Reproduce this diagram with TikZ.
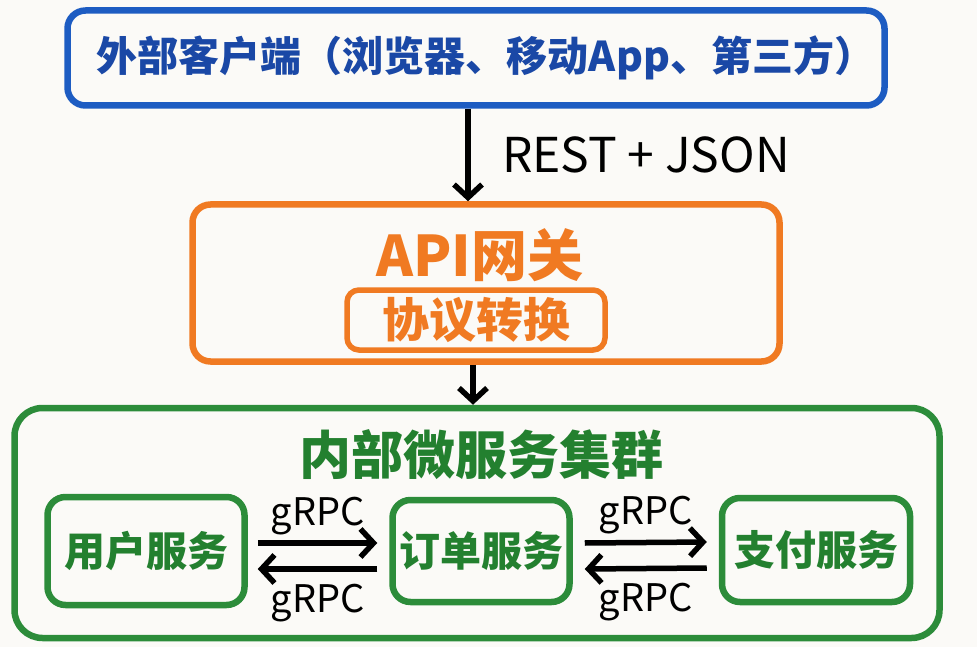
\documentclass[tikz,border=0pt]{standalone}
\usepackage{fontspec}
\setmainfont{Noto Sans CJK SC}
\usetikzlibrary{arrows.meta}
\definecolor{clientblue}{HTML}{1D5CC2}
\definecolor{clienttext}{HTML}{1A48A6}
\definecolor{gworange}{HTML}{F07A22}
\definecolor{svcgreen}{HTML}{2C8C3A}
\definecolor{svctext}{HTML}{23802F}
\definecolor{paper}{HTML}{FBFAF7}
\begin{document}
\begin{tikzpicture}[x=1pt,y=-1pt,
    box/.style={draw, line width=6.5pt, rounded corners=18pt, inner sep=0pt},
    flow/.style={line width=5.5pt, -{Straight Barb[length=13pt,width=28pt]}},
    big/.style={font=\fontsize{41pt}{46pt}\selectfont\bfseries},
    small/.style={font=\fontsize{38pt}{44pt}\selectfont}]
  \fill[paper] (0,0) rectangle (977,647);
  \useasboundingbox (0,0) rectangle (977,647);
  % boxes
  \node[box, draw=clientblue, text=clienttext, font=\fontsize{41pt}{48pt}\selectfont\bfseries,
    minimum width=817pt, minimum height=95pt] (client) at (476,58) {\kern20pt外部客户端（浏览器、移动App、第三方）};
  \node[box, draw=gworange, minimum width=587pt, minimum height=157pt] (gateway) at (486,283) {};
  \node[text=gworange, font=\fontsize{56pt}{62pt}\selectfont\bfseries] (gwtitle) at (480,255) {API网关};
  \node[box, draw=gworange, text=gworange, font=\fontsize{47pt}{52pt}\selectfont\bfseries,
    rounded corners=12pt, line width=5.5pt, minimum width=258pt, minimum height=60pt] (convert) at (476,320) {协议转换};
  \node[box, draw=svcgreen, rounded corners=28pt, minimum width=925pt, minimum height=230pt]
    (cluster) at (477,523) {};
  \node[text=svctext, font=\fontsize{52pt}{58pt}\selectfont\bfseries] (clustertitle) at (481,455) {内部微服务集群};
  \node[box, draw=svcgreen, text=svctext, big, minimum width=197pt, minimum height=108pt]
    (users) at (146,551) {用户服务};
  \node[box, draw=svcgreen, text=svctext, big, minimum width=177pt, minimum height=102pt]
    (orders) at (481,551) {订单服务};
  \node[box, draw=svcgreen, text=svctext, big, minimum width=188pt, minimum height=104pt]
    (payment) at (816,550) {支付服务};
  % connectors
  \draw[flow] ([xshift=-8pt]client.south) -- node[right=28pt, font=\fontsize{48pt}{54pt}\selectfont] (restlabel) {REST + JSON} ([xshift=-8pt]client.south |- gateway.north);
  \draw[flow] ([xshift=-4pt]cluster.north |- gateway.south) -- ([xshift=-4pt]cluster.north);
  \begin{scope}[flow]
    \draw ([xshift=10pt,yshift=8pt]users.east) -- node[above=2pt, small] (grpc1) {gRPC} ([xshift=-12pt,yshift=8pt]orders.west);
    \draw ([xshift=-12pt,yshift=-18pt]orders.west) -- node[below=9pt, small] (grpc2) {gRPC} ([xshift=10pt,yshift=-18pt]users.east);
    \draw ([xshift=12pt,yshift=8pt]orders.east) -- node[above=2pt, small] (grpc3) {gRPC} ([xshift=-12pt,yshift=8pt]payment.west);
    \draw ([xshift=-12pt,yshift=-18pt]payment.west) -- node[below=9pt, small] (grpc4) {gRPC} ([xshift=12pt,yshift=-18pt]orders.east);
  \end{scope}
\end{tikzpicture}
\end{document}
